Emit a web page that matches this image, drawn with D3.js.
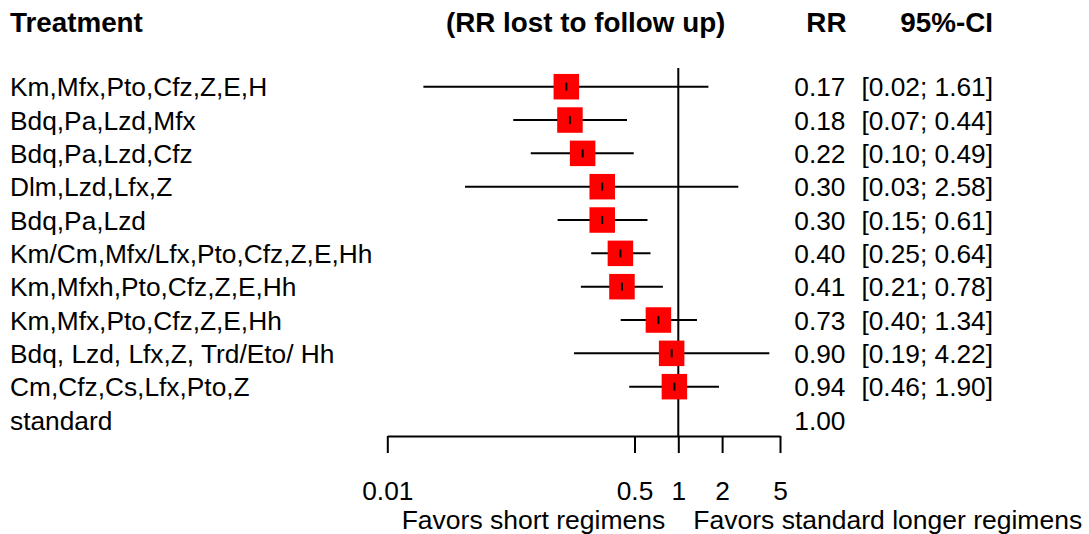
<!DOCTYPE html>
<html>
<head>
<meta charset="utf-8">
<script src="https://cdn.jsdelivr.net/npm/d3@7"></script>
<style>
  html, body { margin: 0; padding: 0; background: #fff; }
  svg { display: block; font-family: "Liberation Sans", Arial, sans-serif; }
</style>
</head>
<body>
<svg id="chart" width="1089" height="534"></svg>
<script>
// ---- data ----
const treatments = [
  "Km,Mfx,Pto,Cfz,Z,E,H",
  "Bdq,Pa,Lzd,Mfx",
  "Bdq,Pa,Lzd,Cfz",
  "Dlm,Lzd,Lfx,Z",
  "Bdq,Pa,Lzd",
  "Km/Cm,Mfx/Lfx,Pto,Cfz,Z,E,Hh",
  "Km,Mfxh,Pto,Cfz,Z,E,Hh",
  "Km,Mfx,Pto,Cfz,Z,E,Hh",
  "Bdq, Lzd, Lfx,Z, Trd/Eto/ Hh",
  "Cm,Cfz,Cs,Lfx,Pto,Z",
  "standard"
];
const rr    = [0.17, 0.18, 0.22, 0.30, 0.30, 0.40, 0.41, 0.73, 0.90, 0.94, 1.00];
const ciLow = [0.0177, 0.0734, 0.0968, 0.0342, 0.148, 0.252, 0.214, 0.402, 0.192, 0.46, null];
const ciHigh= [1.61, 0.444, 0.494, 2.584, 0.614, 0.644, 0.784, 1.344, 4.224, 1.904, null];
const tickValues = [0.01, 0.5, 1, 2, 5];
const tickLabels = ["0.01", "0.5", "1", "2", "5"];
const headerLeft = "Treatment";
const headerMid = "(RR lost to follow up)";
const headerRR = "RR";
const headerCI = "95%-CI";
const labelLeft = "Favors short regimens";
const labelRight = "Favors standard longer regimens";

// ---- layout ----
const svg = d3.select("#chart");
const fs = 26.3;
const x = d3.scaleLog().domain([0.01, 5]).range([387.3, 780]);
const y = d3.scalePoint().domain(d3.range(treatments.length)).range([86.7, 420]);
const axisY = 436;
const rrRight = 845.5;
const ciRight = 993;
const boxSize = 25.5;

// headers
const hdr = svg.append("g").attr("font-weight", "bold").attr("font-size", 27.8).attr("fill", "#000");
hdr.append("text").attr("x", 10).attr("y", 32).text(headerLeft);
hdr.append("text").attr("x", (x.range()[0] + x.range()[1]) / 2 + 2).attr("y", 32)
   .attr("text-anchor", "middle").text(headerMid);
hdr.append("text").attr("x", rrRight + 1).attr("y", 32).attr("text-anchor", "end").text(headerRR);
hdr.append("text").attr("x", ciRight).attr("y", 32).attr("text-anchor", "end").text(headerCI);

// reference line at 1
svg.append("line")
  .attr("x1", x(1)).attr("x2", x(1))
  .attr("y1", 68).attr("y2", axisY)
  .attr("stroke", "#000").attr("stroke-width", 2);

const rows = svg.append("g").selectAll("g").data(treatments).join("g");

// labels
rows.append("text")
  .attr("x", 10).attr("y", (d, i) => y(i) + 9.6)
  .attr("font-size", fs).attr("fill", "#000")
  .text(d => d);

// CI lines
rows.filter((d, i) => ciLow[i] != null).append("line")
  .attr("x1", (d, i) => x(ciLow[i])).attr("x2", (d, i) => x(ciHigh[i]))
  .attr("y1", (d, i) => y(i)).attr("y2", (d, i) => y(i))
  .attr("stroke", "#000").attr("stroke-width", 2);

// squares
rows.filter((d, i) => ciLow[i] != null).append("rect")
  .attr("x", (d, i) => x(rr[i]) - boxSize / 2)
  .attr("y", (d, i) => y(i) - boxSize / 2)
  .attr("width", boxSize).attr("height", boxSize)
  .attr("fill", "#ff0000");

// point-estimate tick
rows.filter((d, i) => ciLow[i] != null).append("line")
  .attr("x1", (d, i) => x(rr[i])).attr("x2", (d, i) => x(rr[i]))
  .attr("y1", (d, i) => y(i) - 4).attr("y2", (d, i) => y(i) + 4)
  .attr("stroke", "#000").attr("stroke-width", 2);

// RR column
rows.append("text")
  .attr("x", rrRight).attr("y", (d, i) => y(i) + 9.6)
  .attr("text-anchor", "end").attr("font-size", fs).attr("fill", "#000")
  .text((d, i) => rr[i].toFixed(2));

// CI column
rows.filter((d, i) => ciLow[i] != null).append("text")
  .attr("x", ciRight).attr("y", (d, i) => y(i) + 9.6)
  .attr("text-anchor", "end").attr("font-size", fs).attr("fill", "#000")
  .text((d, i) => "[" + ciLow[i].toFixed(2) + "; " + ciHigh[i].toFixed(2) + "]");

// axis
const axis = d3.axisBottom(x)
  .tickValues(tickValues)
  .tickFormat((d, i) => tickLabels[i])
  .tickSizeInner(17).tickSizeOuter(0).tickPadding(28.5);
const ag = svg.append("g").attr("transform", `translate(0,${axisY})`).call(axis);
ag.selectAll("path.domain").attr("stroke", "#000").attr("stroke-width", 2);
ag.selectAll(".tick line").attr("stroke", "#000").attr("stroke-width", 2);
ag.selectAll(".tick text").attr("font-size", fs).attr("fill", "#000")
  .attr("font-family", "Liberation Sans, Arial, sans-serif");

// favours labels
svg.append("text").attr("x", x(1) - 13).attr("y", 528.5)
  .attr("text-anchor", "end").attr("font-size", 26.5).attr("fill", "#000").text(labelLeft);
svg.append("text").attr("x", x(1) + 15).attr("y", 528.5)
  .attr("text-anchor", "start").attr("font-size", 26.5).attr("fill", "#000").text(labelRight);
</script>
</body>
</html>
